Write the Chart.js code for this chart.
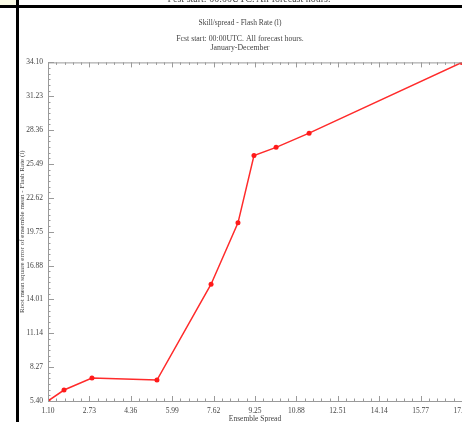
<!DOCTYPE html>
<html>
<head>
<meta charset="utf-8">
<script src="https://cdn.jsdelivr.net/npm/chart.js@4.4.1/dist/chart.umd.min.js"></script>
<style>
html, body { margin: 0; padding: 0; background: #fff; overflow: hidden; }
#wrap { position: relative; width: 462px; height: 422px; overflow: hidden; background: #fff; }
#chartBox { position: absolute; left: 0; top: 0; width: 490px; height: 440px; }
#topText { position: absolute; top: -7px; left: 0; width: 498px; text-align: center;
  font: 10px "Liberation Serif"; color: #444; white-space: nowrap; }
#corner { position: absolute; left: 0; top: 0; width: 16px; height: 5px; background: #fbfbe6; }
#hline { position: absolute; left: 0; top: 5px; width: 462px; height: 3px; background: #000; }
#vline { position: absolute; left: 16px; top: 0; width: 3px; height: 422px; background: #000; }
</style>
</head>
<body>
<div id="wrap">
  <div id="chartBox"><canvas id="skillChart"></canvas></div>
  <div id="corner"></div>
  <div id="topText">Fcst start: 00:00UTC. All forecast hours.</div>
  <div id="hline"></div>
  <div id="vline"></div>
</div>
<script>
// data
const spread = [1.10, 1.73, 2.83, 5.39, 7.52, 8.58, 9.21, 10.08, 11.38, 17.40];
const rmse   = [5.40, 6.33, 7.35, 7.18, 15.3, 20.5, 26.2, 26.9, 28.1, 34.10];

const xTickLabels = ['1.10', '2.73', '4.36', '5.99', '7.62', '9.25', '10.88', '12.51', '14.14', '15.77', '17.40'];
const yTickLabels = ['5.40', '8.27', '11.14', '14.01', '16.88', '19.75', '22.62', '25.49', '28.36', '31.23', '34.10'];

const X_MINOR = 5;  // intervals between labelled ticks
const Y_MINOR = 6;
const FONT = 'Liberation Serif';
const TXT = '#444';
const AXIS = '#9a9a9a';

const xTickVals = xTickLabels.map(parseFloat);
const yTickVals = yTickLabels.map(parseFloat);

// axis lines + inward tick marks
const axisTicks = {
    id: 'axisTicks',
    afterDraw(chart) {
        const {ctx, chartArea: a, scales: {x, y}} = chart;
        ctx.save();
        ctx.strokeStyle = AXIS;
        ctx.lineWidth = 1;
        ctx.beginPath();
        ctx.moveTo(a.left + 0.5, a.top);
        ctx.lineTo(a.left + 0.5, a.bottom + 0.5);
        ctx.lineTo(a.right, a.bottom + 0.5);
        ctx.moveTo(a.left, a.top + 0.5);
        ctx.lineTo(a.right, a.top + 0.5);

        const xStep = (xTickVals[1] - xTickVals[0]) / X_MINOR;
        const nx = (xTickVals.length - 1) * X_MINOR;
        for (let i = 0; i <= nx; i++) {
            const px = Math.round(x.getPixelForValue(xTickVals[0] + i * xStep)) + 0.5;
            const len = i % X_MINOR === 0 ? 5 : 2.5;
            ctx.moveTo(px, a.bottom);
            ctx.lineTo(px, a.bottom - len);
            ctx.moveTo(px, a.top);
            ctx.lineTo(px, a.top + len);
        }
        const yStep = (yTickVals[1] - yTickVals[0]) / Y_MINOR;
        const ny = (yTickVals.length - 1) * Y_MINOR;
        for (let i = 0; i <= ny; i++) {
            const py = Math.round(y.getPixelForValue(yTickVals[0] + i * yStep)) + 0.5;
            const len = i % Y_MINOR === 0 ? 6 : 2.5;
            ctx.moveTo(a.left, py);
            ctx.lineTo(a.left + len, py);
        }
        ctx.stroke();
        ctx.restore();
    }
};

const ctx = document.getElementById('skillChart').getContext('2d');
new Chart(ctx, {
    type: 'line',
    data: {
        datasets: [{
            data: spread.map((v, i) => ({x: v, y: rmse[i]})),
            borderColor: '#ff2b2b',
            backgroundColor: '#ff2b2b',
            borderWidth: 1.5,
            pointRadius: 2.5,
            pointBorderWidth: 0,
            pointBackgroundColor: '#ff1a1a',
            tension: 0,
            fill: false
        }]
    },
    options: {
        responsive: true,
        maintainAspectRatio: false,
        devicePixelRatio: 1,
        animation: false,
        layout: {padding: {left: 18, right: 28, top: 0, bottom: 16}},
        plugins: {
            legend: {display: false},
            tooltip: {enabled: false},
            title: {
                display: true,
                text: 'Skill/spread - Flash Rate (l)',
                color: TXT,
                font: {family: FONT, size: 7.5, weight: 'normal', lineHeight: 1.2},
                padding: {top: 18.8, bottom: 7}
            },
            subtitle: {
                display: true,
                text: ['Fcst start: 00:00UTC. All forecast hours.', 'January-December'],
                color: TXT,
                font: {family: FONT, size: 7.8, lineHeight: 1.16},
                padding: {top: 0, bottom: 9.5}
            }
        },
        scales: {
            x: {
                type: 'linear',
                min: xTickVals[0],
                max: xTickVals[xTickVals.length - 1],
                grid: {display: false, drawTicks: false},
                border: {display: false},
                afterBuildTicks: s => { s.ticks = xTickVals.map(v => ({value: v})); },
                afterFit: s => { s.height = 23; },
                ticks: {
                    autoSkip: false, maxRotation: 0, padding: 6,
                    color: TXT, font: {family: FONT, size: 7.5},
                    callback: (v, i) => xTickLabels[i]
                },
                title: {
                    display: true, text: 'Ensemble Spread', color: TXT,
                    font: {family: FONT, size: 7.5}, padding: 0
                }
            },
            y: {
                type: 'linear',
                min: yTickVals[0],
                max: yTickVals[yTickVals.length - 1],
                grid: {display: false, drawTicks: false},
                border: {display: false},
                afterBuildTicks: s => { s.ticks = yTickVals.map(v => ({value: v})); },
                afterFit: s => { s.width = 30; },
                ticks: {
                    autoSkip: false, padding: 5,
                    color: TXT, font: {family: FONT, size: 7.5},
                    callback: (v, i) => yTickLabels[i]
                },
                title: {
                    display: true, text: 'Root mean square error of ensemble mean - Flash Rate (l)',
                    color: TXT, font: {family: FONT, size: 7}, padding: 0
                }
            }
        }
    },
    plugins: [axisTicks]
});
</script>
</body>
</html>
